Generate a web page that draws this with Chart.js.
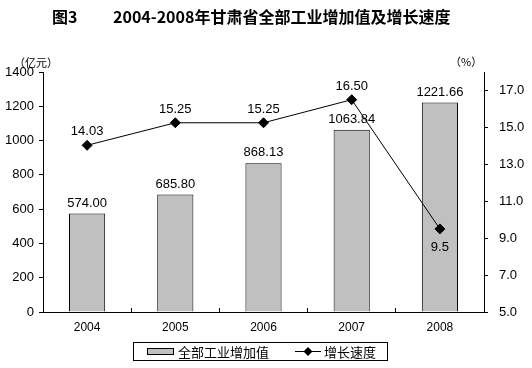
<!DOCTYPE html>
<html>
<head>
<meta charset="utf-8">
<script src="https://cdn.jsdelivr.net/npm/chart.js@4"></script>
<style>
  body { margin: 0; background: #fff; }
  #wrap { width: 532px; height: 368px; position: relative; }
</style>
</head>
<body>
<div id="wrap"><canvas id="chart1" width="532" height="368"></canvas></div>
<script>
var years = ['2004', '2005', '2006', '2007', '2008'];
var addedValue = [574.00, 685.80, 868.13, 1063.84, 1221.66];
var growthRate = [14.03, 15.25, 15.25, 16.50, 9.5];
var growthText = ['14.03', '15.25', '15.25', '16.50', '9.5'];
var rightTicks = [5, 7, 9, 11, 13, 15, 17];

var FONT = '"Liberation Sans", Arial, sans-serif';
var CJK = '"Noto Sans CJK SC", sans-serif';

// title, unit labels, data labels and the boxed legend
var decor = {
  id: 'decor',
  afterDatasetsDraw: function (chart) {
    var ctx = chart.ctx;
    ctx.save();
    ctx.fillStyle = '#000';
    ctx.textBaseline = 'middle';

    ctx.font = 'bold 16px ' + CJK;
    ctx.textAlign = 'left';
    ctx.fillText('图3', 52, 17);
    ctx.fillText('2004-2008年甘肃省全部工业增加值及增长速度', 113, 17);

    ctx.font = '11px ' + CJK;
    ctx.fillText('（亿元）', 14, 63);
    ctx.fillText('（%）', 450, 62);

    ctx.font = '13px ' + FONT;
    ctx.textAlign = 'center';
    ctx.textBaseline = 'bottom';
    chart.getDatasetMeta(0).data.forEach(function (bar, i) {
      ctx.fillText(addedValue[i].toFixed(2), bar.x, bar.y - 4);
    });
    chart.getDatasetMeta(1).data.forEach(function (pt, i) {
      if (i === 4) {
        ctx.textBaseline = 'top';
        ctx.fillText(growthText[i], pt.x, pt.y + 12);
      } else {
        ctx.textBaseline = 'bottom';
        ctx.fillText(growthText[i], pt.x, pt.y - 7);
      }
    });

    // legend
    ctx.strokeStyle = '#000';
    ctx.lineWidth = 1;
    ctx.strokeRect(133.5, 342.5, 254, 18);
    ctx.fillStyle = '#c0c0c0';
    ctx.fillRect(147, 348, 27, 7);
    ctx.strokeRect(147.5, 348.5, 26, 6);
    ctx.fillStyle = '#000';
    ctx.font = '13px ' + CJK;
    ctx.textAlign = 'left';
    ctx.textBaseline = 'middle';
    ctx.fillText('全部工业增加值', 178, 352);
    ctx.beginPath();
    ctx.moveTo(295, 351.5);
    ctx.lineTo(321, 351.5);
    ctx.stroke();
    ctx.beginPath();
    ctx.moveTo(308, 347);
    ctx.lineTo(312.5, 351.5);
    ctx.lineTo(308, 356);
    ctx.lineTo(303.5, 351.5);
    ctx.closePath();
    ctx.fill();
    ctx.fillText('增长速度', 324, 352);
    ctx.restore();
  }
};

new Chart(document.getElementById('chart1'), {
  type: 'bar',
  data: {
    labels: years,
    datasets: [
      {
        label: '全部工业增加值',
        data: addedValue,
        backgroundColor: '#c0c0c0',
        borderColor: '#000',
        borderWidth: 1,
        barPercentage: 0.41,
        categoryPercentage: 1,
        yAxisID: 'y',
        order: 2
      },
      {
        type: 'line',
        label: '增长速度',
        data: growthRate,
        borderColor: '#000',
        borderWidth: 1,
        backgroundColor: '#000',
        pointStyle: 'rectRot',
        pointRadius: 5,
        pointBackgroundColor: '#000',
        yAxisID: 'y1',
        order: 1
      }
    ]
  },
  options: {
    responsive: false,
    animation: false,
    devicePixelRatio: 1,
    layout: { padding: { top: 72, left: 0, right: 0, bottom: 0 } },
    plugins: {
      legend: { display: false },
      title: { display: false },
      tooltip: { enabled: false }
    },
    scales: {
      x: {
        grid: { display: true, drawOnChartArea: false, color: '#000', tickLength: -4 },
        border: { color: '#000' },
        ticks: { color: '#000', font: { family: FONT, size: 12 }, padding: 12 },
        afterFit: function (s) { s.height = 56; }
      },
      y: {
        position: 'left',
        min: 0,
        max: 1400,
        grid: { drawOnChartArea: false, color: '#000', tickLength: 4 },
        border: { color: '#000' },
        ticks: {
          stepSize: 200,
          color: '#000',
          font: { family: FONT, size: 13 },
          padding: 5,
          callback: function (v) { return String(v); }
        },
        afterFit: function (s) { s.width = 43; }
      },
      y1: {
        position: 'right',
        min: 5,
        max: 18,
        grid: { drawOnChartArea: false, color: '#000', tickLength: 4 },
        border: { color: '#000' },
        afterBuildTicks: function (s) {
          s.ticks = rightTicks.map(function (v) { return { value: v }; });
        },
        ticks: {
          color: '#000',
          font: { family: FONT, size: 13 },
          padding: 11,
          callback: function (v) { return Number(v).toFixed(1); }
        },
        afterFit: function (s) { s.width = 48; }
      }
    }
  },
  plugins: [decor]
});
</script>
</body>
</html>
